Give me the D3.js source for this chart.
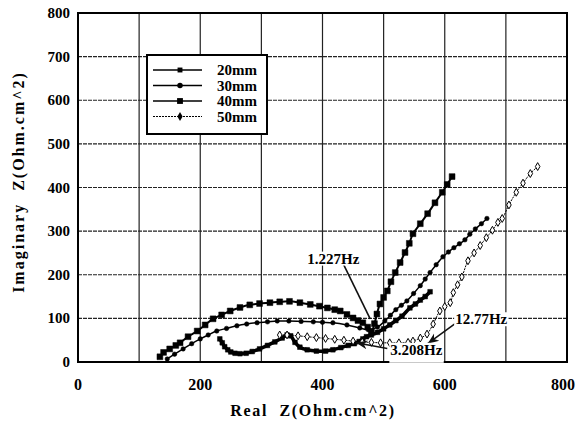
<!DOCTYPE html>
<html lang="en">
<head>
    <meta charset="UTF-8">
    <title>Nyquist plot</title>
    <script src="https://d3js.org/d3.v7.min.js"></script>
    <style>
        body { margin: 0; background: #fff; }
        svg { display: block; font-family: "Liberation Serif", "Times New Roman", serif; font-weight: bold; }
    </style>
</head>
<body>
<div id="chart"></div>
<script>
    // tick labels
    const xTicks = [0, 200, 400, 600, 800];
    const yTicks = [0, 100, 200, 300, 400, 500, 600, 700, 800];
    const seriesNames = ["20mm", "30mm", "40mm", "50mm"];

    // 20mm
    const re20 = [232,236,240,245,250,257,265,275,285,297,310,322,334,342,348,355,363,375,390,405,417,430,442,452,460,466,472,480,490,500,510,520,530,543,552,560,568,576];
    const im20 = [53,44,35,28,23,20,19,20,24,30,38,46,55,62,60,45,34,28,25,25,28,33,38,42,47,53,58,62,68,76,85,95,105,124,133,142,150,161];
    // 30mm
    const re30 = [146,158,172,186,200,213,227,243,260,276,293,310,326,345,365,385,400,417,440,461,475,490,502,511,520,529,538,549,560,568,576,586,597,606,615,624,633,641,650,660,669];
    const im30 = [7,18,30,42,53,62,71,77,83,87,90,92,94,94,93,92,91,90,85,78,74,80,94,107,120,130,140,157,175,190,205,223,241,252,262,271,280,293,305,317,329];
    // 40mm
    const re40 = [134,140,150,160,167,180,195,208,221,235,249,265,281,297,314,330,346,363,380,395,408,420,429,440,450,458,466,474,480,485,489,494,500,506,512,519,527,535,542,548,560,572,584,596,604,612];
    const im40 = [12,22,30,38,44,58,71,85,99,108,117,125,131,134,136,138,139,136,132,128,124,120,117,109,101,95,90,80,70,88,110,133,148,163,184,205,228,251,272,294,317,340,365,389,407,425];
    // 50mm
    const re50 = [330,342,360,375,390,405,420,435,450,465,480,495,510,525,540,548,560,571,581,592,600,609,614,621,628,638,648,658,668,678,687,694,705,717,728,740,752];
    const im50 = [62,62,60,58,56,54,52,50,48,46,45,44,44,44,45,48,55,64,87,117,127,136,159,177,195,232,250,267,285,302,320,329,360,389,410,432,448];

    // frequency notes: label, text position, line start, line end
    const noteLabels = ["1.227Hz", "12.77Hz", "3.208Hz"];
    const noteText = [[375, 237], [617, 98], [511, 28]];
    const noteFrom = [[434, 225], [617, 88], [506, 31]];
    const noteTo = [[478, 99], [572, 42], [455, 44]];
    const noteArrow = [false, true, true];

    const width = 586, height = 432;
    const svg = d3.select("#chart").append("svg")
        .attr("width", width)
        .attr("height", height);

    const x = d3.scaleLinear().domain([0, 800]).range([78, 567]);
    const y = d3.scaleLinear().domain([0, 800]).range([362, 13]);

    svg.append("defs").append("marker")
        .attr("id", "arrowhead")
        .attr("viewBox", "0 -5 10 10")
        .attr("refX", 10)
        .attr("refY", 0)
        .attr("markerWidth", 7)
        .attr("markerHeight", 7)
        .attr("orient", "auto")
        .append("path")
        .attr("d", "M0,-4L10,0L0,4L3,0Z")
        .attr("fill", "#111");

    // grid
    svg.append("g").selectAll("line")
        .data(xTicks.concat([100, 300, 500, 700]))
        .join("line")
        .attr("x1", d => x(d)).attr("x2", d => x(d))
        .attr("y1", y(0)).attr("y2", y(800))
        .attr("stroke", "#222").attr("stroke-width", 1.2);
    svg.append("g").selectAll("line")
        .data(yTicks)
        .join("line")
        .attr("x1", x(0)).attr("x2", x(800))
        .attr("y1", d => y(d)).attr("y2", d => y(d))
        .attr("stroke", "#222").attr("stroke-width", 1.2)
        .attr("stroke-dasharray", "4,1");

    svg.append("rect")
        .attr("x", x(0)).attr("y", y(800))
        .attr("width", x(800) - x(0)).attr("height", y(0) - y(800))
        .attr("fill", "none").attr("stroke", "#000").attr("stroke-width", 2);

    // tick labels
    svg.append("g").selectAll("text")
        .data(yTicks)
        .join("text")
        .attr("x", 70).attr("y", d => y(d) + 5)
        .attr("text-anchor", "end")
        .attr("font-size", 15)
        .text(d => d);
    svg.append("g").selectAll("text")
        .data(xTicks)
        .join("text")
        .attr("x", d => x(d) - (d === 800 ? 4 : 0)).attr("y", 390)
        .attr("text-anchor", "middle")
        .attr("font-size", 16)
        .text(d => d);

    svg.append("text")
        .attr("x", 313).attr("y", 416)
        .attr("text-anchor", "middle")
        .attr("font-size", 16)
        .attr("letter-spacing", 1.7)
        .attr("xml:space", "preserve")
        .text("Real  Z(Ohm.cm^2)");
    svg.append("text")
        .attr("transform", "translate(24,182) rotate(-90)")
        .attr("text-anchor", "middle")
        .attr("font-size", 16)
        .attr("letter-spacing", 2)
        .attr("xml:space", "preserve")
        .text("Imaginary  Z(Ohm.cm^2)");

    const styles = [
        { width: 3.5, dash: null, shape: d3.symbolSquare, size: 22, fill: "#000" },
        { width: 1.5, dash: null, shape: d3.symbolCircle, size: 16, fill: "#000" },
        { width: 2, dash: null, shape: d3.symbolSquare, size: 34, fill: "#000" },
        { width: 1, dash: "2,1", shape: d3.symbolDiamond, size: 18, fill: "#fff" }
    ];
    const series = [
        re20.map((v, i) => [v, im20[i]]),
        re30.map((v, i) => [v, im30[i]]),
        re40.map((v, i) => [v, im40[i]]),
        re50.map((v, i) => [v, im50[i]])
    ];

    const line = d3.line().x(d => x(d[0])).y(d => y(d[1])).curve(d3.curveCatmullRom);

    series.forEach((pts, k) => {
        const s = styles[k];
        const g = svg.append("g");
        g.append("path")
            .attr("d", line(pts))
            .attr("fill", "none")
            .attr("stroke", "#000")
            .attr("stroke-width", s.width)
            .attr("stroke-dasharray", s.dash);
        g.selectAll("path.pt")
            .data(pts)
            .join("path")
            .attr("class", "pt")
            .attr("transform", d => `translate(${x(d[0])},${y(d[1])})`)
            .attr("d", d3.symbol().type(s.shape).size(s.size))
            .attr("fill", s.fill)
            .attr("stroke", "#000")
            .attr("stroke-width", k === 3 ? 1 : 0.5);
    });

    // frequency notes
    noteLabels.forEach((t, i) => {
        svg.append("line")
            .attr("x1", x(noteFrom[i][0])).attr("y1", y(noteFrom[i][1]))
            .attr("x2", x(noteTo[i][0])).attr("y2", y(noteTo[i][1]))
            .attr("stroke", "#111").attr("stroke-width", 1.6)
            .attr("marker-end", noteArrow[i] ? "url(#arrowhead)" : null);
        const txt = svg.append("text")
            .attr("x", x(noteText[i][0])).attr("y", y(noteText[i][1]) + 5)
            .attr("font-size", 15)
            .text(t);
        const b = txt.node().getBBox();
        svg.insert("rect", () => txt.node())
            .attr("x", b.x - 1).attr("y", b.y + 1)
            .attr("width", b.width + 2).attr("height", b.height + (i === 2 ? 4 : -2))
            .attr("fill", "#fff");
    });

    // legend
    const legend = svg.append("g").attr("transform", "translate(147,55)");
    legend.append("rect")
        .attr("width", 120).attr("height", 79)
        .attr("fill", "#fff").attr("stroke", "#000").attr("stroke-width", 2);
    seriesNames.forEach((name, k) => {
        const s = styles[k];
        const ly = 15 + k * 15.5;
        legend.append("line")
            .attr("x1", 6).attr("x2", 55).attr("y1", ly).attr("y2", ly)
            .attr("stroke", "#000")
            .attr("stroke-width", k === 3 ? 1 : 1.5)
            .attr("stroke-dasharray", s.dash);
        legend.append("path")
            .attr("transform", `translate(33,${ly})`)
            .attr("d", d3.symbol().type(k === 3 ? d3.symbolDiamond : s.shape).size(k === 2 ? 34 : 24))
            .attr("fill", "#000");
        legend.append("text")
            .attr("x", 70).attr("y", ly + 5)
            .attr("font-size", 15)
            .text(name);
    });
</script>
</body>
</html>
